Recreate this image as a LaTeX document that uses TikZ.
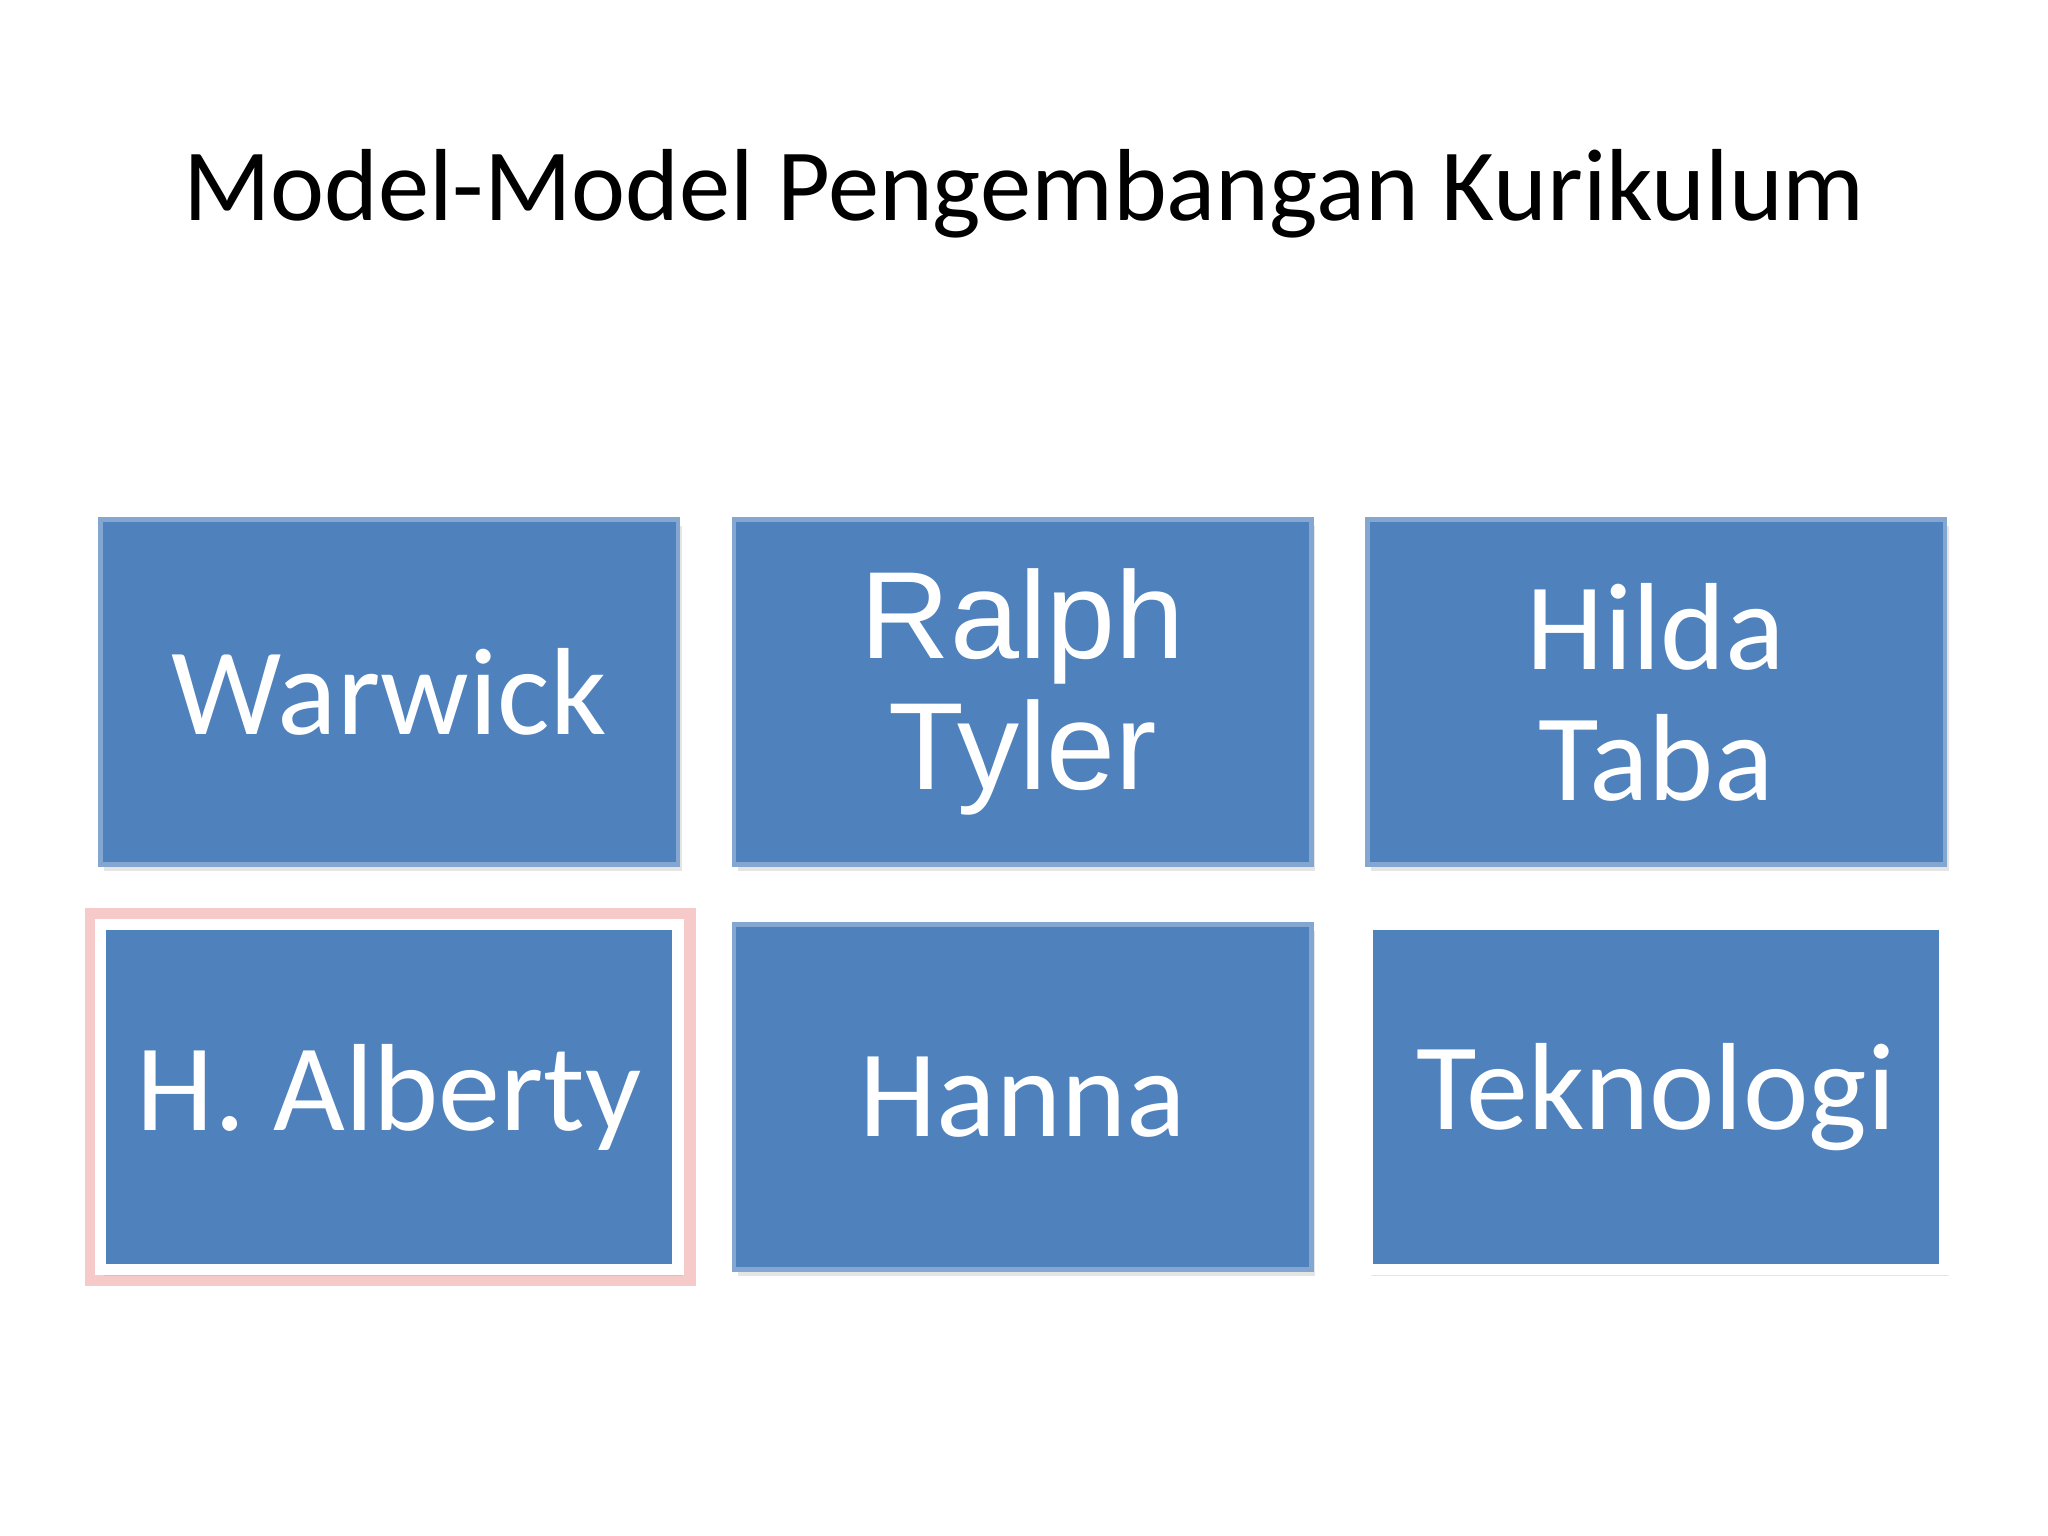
\documentclass[tikz,border=0pt]{standalone}
\usepackage{fontspec}
\setmainfont{Carlito}
\newfontfamily\arialfont{Liberation Sans}
\usetikzlibrary{positioning,shadows}
\definecolor{boxblue}{RGB}{79,129,189}
\definecolor{glowpink}{RGB}{240,150,150}
\tikzset{every node/.style={font=\fontsize{27}{28.5}\selectfont},
  modelbox/.style={fill=boxblue,text=white,minimum width=4.42cm,minimum height=2.64cm,
    align=center,inner sep=0pt,draw=boxblue!70!white,line width=1pt,drop shadow={opacity=0.2,shadow xshift=0.03cm,shadow yshift=-0.05cm}},
  framedbox/.style={modelbox,draw=white,line width=2.5pt}}
\begin{document}
\begin{tikzpicture}[x=0.01cm,y=-0.01cm]
\useasboundingbox[fill=white] (0,0) rectangle (1568,1176);
\node (title) at (784,148) {\fontsize{22.3}{26}\selectfont Model-Model Pengembangan Kurikulum};
\node[modelbox] (warwick) at (298,530) {Warwick};
\node[modelbox] (tyler) at (783,530) {\arialfont Ralph\\\arialfont Tyler};
\node[modelbox] (taba) at (1268,530) {Hilda\\Taba};
\draw[glowpink,line width=5pt,opacity=0.5] (74,704) rectangle (524,976);
\node[framedbox] (alberty) at (298,840) {H. Alberty};
\node[modelbox] (hanna) at (783,840) {Hanna};
\node[framedbox] (teknologi) at (1268,840) {Teknologi};
\end{tikzpicture}
\end{document}
